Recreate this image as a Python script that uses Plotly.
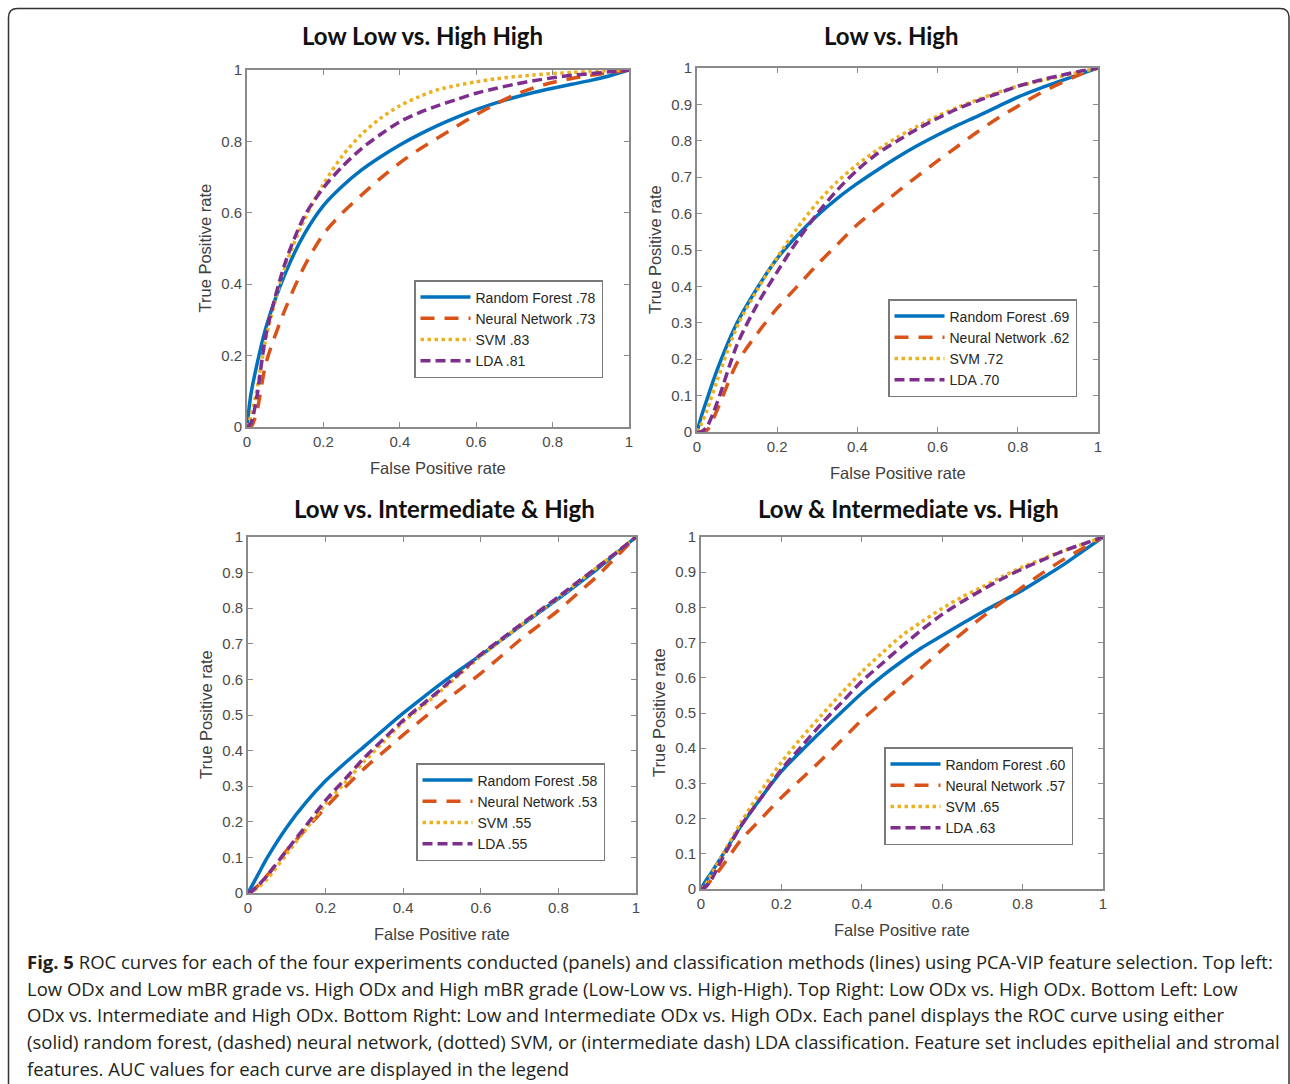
import plotly.graph_objects as go

W, H = 1290, 1084

# ---------------- data ----------------
fpr = [0, 0.01, 0.025, 0.05, 0.1, 0.15, 0.2, 0.25, 0.3, 0.35, 0.4, 0.45, 0.5,
       0.55, 0.6, 0.65, 0.7, 0.75, 0.8, 0.85, 0.9, 0.95, 1.0]

methods = ["Random Forest", "Neural Network", "SVM", "LDA"]

panel_titles = ["Low Low vs. High High", "Low vs. High",
                "Low vs. Intermediate & High", "Low & Intermediate vs. High"]

auc_p1 = [".78", ".73", ".83", ".81"]
auc_p2 = [".69", ".62", ".72", ".70"]
auc_p3 = [".58", ".53", ".55", ".55"]
auc_p4 = [".60", ".57", ".65", ".63"]

# Panel 1: Low Low vs. High High
p1_rf = [0, 0.09, 0.17, 0.28, 0.43, 0.54, 0.62, 0.675, 0.72, 0.757, 0.79, 0.819, 0.845,
         0.868, 0.889, 0.907, 0.923, 0.937, 0.949, 0.96, 0.971, 0.984, 1.0]
p1_nn = [0, 0, 0.04, 0.18, 0.33, 0.45, 0.54, 0.60, 0.65, 0.697, 0.74, 0.777, 0.81,
         0.843, 0.875, 0.904, 0.93, 0.95, 0.965, 0.976, 0.985, 0.993, 1.0]
p1_svm = [0, 0.03, 0.10, 0.25, 0.45, 0.58, 0.68, 0.76, 0.82, 0.865, 0.90, 0.925, 0.945,
          0.957, 0.967, 0.975, 0.981, 0.986, 0.99, 0.993, 0.996, 0.998, 1.0]
p1_lda = [0, 0.01, 0.08, 0.26, 0.46, 0.59, 0.67, 0.73, 0.78, 0.82, 0.855, 0.88, 0.90,
          0.918, 0.935, 0.948, 0.96, 0.97, 0.978, 0.985, 0.99, 0.995, 1.0]

# Panel 2: Low vs. High
p2_rf = [0, 0.04, 0.09, 0.17, 0.30, 0.395, 0.477, 0.54, 0.595, 0.642, 0.683, 0.72, 0.755,
         0.787, 0.816, 0.843, 0.868, 0.894, 0.92, 0.942, 0.962, 0.981, 1.0]
p2_nn = [0, 0, 0.005, 0.06, 0.19, 0.27, 0.34, 0.40, 0.46, 0.515, 0.57, 0.615, 0.66,
         0.703, 0.745, 0.785, 0.825, 0.862, 0.895, 0.927, 0.955, 0.98, 1.0]
p2_svm = [0, 0.02, 0.06, 0.14, 0.29, 0.39, 0.48, 0.56, 0.63, 0.688, 0.735, 0.775, 0.81,
          0.84, 0.868, 0.892, 0.913, 0.933, 0.95, 0.963, 0.975, 0.988, 1.0]
p2_lda = [0, 0, 0.015, 0.08, 0.24, 0.35, 0.44, 0.525, 0.60, 0.665, 0.72, 0.765, 0.80,
          0.833, 0.862, 0.888, 0.91, 0.93, 0.95, 0.965, 0.978, 0.99, 1.0]

# Panel 3: Low vs. Intermediate & High
p3_rf = [0, 0.02, 0.05, 0.10, 0.185, 0.255, 0.315, 0.365, 0.412, 0.459, 0.505, 0.548, 0.59,
         0.63, 0.668, 0.708, 0.748, 0.788, 0.827, 0.868, 0.91, 0.955, 1.0]
p3_nn = [0, 0.005, 0.02, 0.05, 0.12, 0.18, 0.24, 0.297, 0.35, 0.397, 0.444, 0.489, 0.533,
         0.575, 0.617, 0.663, 0.71, 0.752, 0.794, 0.842, 0.89, 0.945, 1.0]
p3_svm = [0, 0.003, 0.015, 0.04, 0.11, 0.18, 0.25, 0.31, 0.37, 0.425, 0.48, 0.525, 0.57,
          0.618, 0.665, 0.708, 0.75, 0.79, 0.83, 0.872, 0.915, 0.957, 1.0]
p3_lda = [0, 0.005, 0.02, 0.05, 0.12, 0.19, 0.26, 0.32, 0.38, 0.433, 0.485, 0.53, 0.575,
          0.622, 0.67, 0.711, 0.752, 0.792, 0.832, 0.874, 0.915, 0.957, 1.0]

# Panel 4: Low & Intermediate vs. High
p4_rf = [0, 0.02, 0.045, 0.09, 0.18, 0.26, 0.334, 0.393, 0.449, 0.503, 0.556, 0.604, 0.647,
         0.686, 0.72, 0.754, 0.787, 0.818, 0.849, 0.884, 0.92, 0.96, 1.0]
p4_nn = [0, 0.005, 0.025, 0.06, 0.14, 0.20, 0.26, 0.313, 0.367, 0.423, 0.48, 0.53, 0.58,
         0.63, 0.68, 0.727, 0.773, 0.816, 0.858, 0.898, 0.935, 0.968, 1.0]
p4_svm = [0, 0.01, 0.04, 0.09, 0.19, 0.28, 0.36, 0.43, 0.494, 0.557, 0.617, 0.67, 0.72,
          0.76, 0.797, 0.83, 0.858, 0.888, 0.915, 0.938, 0.96, 0.98, 1.0]
p4_lda = [0, 0.005, 0.025, 0.08, 0.18, 0.26, 0.34, 0.405, 0.47, 0.53, 0.59, 0.64, 0.69,
          0.737, 0.78, 0.817, 0.85, 0.882, 0.91, 0.935, 0.96, 0.98, 1.0]

x_ticks = [0, 0.2, 0.4, 0.6, 0.8, 1]
y_ticks_p1 = [0, 0.2, 0.4, 0.6, 0.8, 1]
y_ticks_other = [0, 0.1, 0.2, 0.3, 0.4, 0.5, 0.6, 0.7, 0.8, 0.9, 1]

caption_lines = [
    "<b>Fig. 5</b> ROC curves for each of the four experiments conducted (panels) and classification methods (lines) using PCA-VIP feature selection. Top left:",
    "Low ODx and Low mBR grade vs. High ODx and High mBR grade (Low-Low vs. High-High). Top Right: Low ODx vs. High ODx. Bottom Left: Low",
    "ODx vs. Intermediate and High ODx. Bottom Right: Low and Intermediate ODx vs. High ODx. Each panel displays the ROC curve using either",
    "(solid) random forest, (dashed) neural network, (dotted) SVM, or (intermediate dash) LDA classification. Feature set includes epithelial and stromal",
    "features. AUC values for each curve are displayed in the legend",
]

# ---------------- styling ----------------
colors = ["#0072BD", "#D95319", "#EDB120", "#7E2F8E"]
dashes = ["solid", "14px,10px", "3.5px,3.5px", "10px,5px"]
lw = 3.5


def px_x(p):
    return p / W


def px_y(p):
    return 1 - p / H


# panel pixel boxes: (left, right, top, bottom)
boxes = [(247, 629, 70, 427), (697, 1098, 68, 432),
         (248, 636, 537, 893), (701, 1103, 537, 889)]
legend_anchor = [(603, 378), (1077, 397), (605, 861), (1073, 845)]
title_pos = [(422, 36), (891, 36), (444, 508), (908, 508)]

panels = [
    (p1_rf, p1_nn, p1_svm, p1_lda, auc_p1, y_ticks_p1),
    (p2_rf, p2_nn, p2_svm, p2_lda, auc_p2, y_ticks_other),
    (p3_rf, p3_nn, p3_svm, p3_lda, auc_p3, y_ticks_other),
    (p4_rf, p4_nn, p4_svm, p4_lda, auc_p4, y_ticks_other),
]

fig = go.Figure()
layout = dict(
    width=W, height=H,
    margin=dict(l=0, r=0, t=0, b=0, pad=0, autoexpand=False),
    paper_bgcolor="white", plot_bgcolor="white", showlegend=True,
    font=dict(family="Liberation Sans, Arial", color="#404040"),
)
annotations = []

axis_common = dict(
    range=[0, 1], showgrid=False, zeroline=False, showline=True,
    linecolor="#8a8a8a", linewidth=1.6, mirror="ticks", ticks="inside",
    ticklen=5, tickcolor="#8a8a8a", tickwidth=1.2,
    tickfont=dict(size=15, color="#4a4a4a", family="Liberation Sans, Arial"),
    fixedrange=True, automargin=False,
)

for i, (rf, nn, svm, lda, aucs, yt) in enumerate(panels):
    k = i + 1
    xa = "x" if k == 1 else f"x{k}"
    ya = "y" if k == 1 else f"y{k}"
    leg = "legend" if k == 1 else f"legend{k}"
    series = [rf, nn, svm, lda]
    for j in range(4):
        fig.add_trace(go.Scatter(
            x=fpr, y=series[j], mode="lines", xaxis=xa, yaxis=ya,
            name=f"{methods[j]} {aucs[j]}", legend=leg,
            line=dict(color=colors[j], width=lw, dash=dashes[j],
                      shape="spline", smoothing=0.8),
            hoverinfo="skip",
        ))
    l, r, t, b = boxes[i]
    layout[f"xaxis{'' if k == 1 else k}"] = dict(
        axis_common, domain=[px_x(l), px_x(r)], anchor=ya, tickvals=x_ticks,
        ticktext=[f"{v:g}" for v in x_ticks])
    layout[f"yaxis{'' if k == 1 else k}"] = dict(
        axis_common, domain=[px_y(b), px_y(t)], anchor=xa, tickvals=yt,
        ticktext=[f"{v:g}" for v in yt])
    lx, ly = legend_anchor[i]
    layout[leg] = dict(
        x=px_x(lx), y=px_y(ly), xanchor="right", yanchor="bottom",
        bgcolor="white", bordercolor="#7a7a7a", borderwidth=1.5,
        font=dict(size=14, color="#262626", family="Liberation Sans, Arial"),
        itemwidth=50, tracegroupgap=0,
    )
    # panel title
    tx, ty = title_pos[i]
    annotations.append(dict(
        text=f"<b>{panel_titles[i]}</b>", x=px_x(tx), y=px_y(ty),
        xref="paper", yref="paper", showarrow=False, xanchor="center",
        yanchor="middle", font=dict(family="Lato", size=24, color="#111111")))
    # axis titles
    annotations.append(dict(
        text="False Positive rate", x=px_x((l + r) / 2), y=px_y(b + 41),
        xref="paper", yref="paper", showarrow=False, xanchor="center",
        yanchor="middle", font=dict(size=16.5, color="#404040")))
    annotations.append(dict(
        text="True Positive rate", x=px_x(l - 42), y=px_y((t + b) / 2),
        xref="paper", yref="paper", showarrow=False, xanchor="center",
        yanchor="middle", textangle=-90, font=dict(size=16.5, color="#404040")))

cap_y = [961, 988, 1014, 1041, 1068]
for line, yy in zip(caption_lines, cap_y):
    annotations.append(dict(
        text=line, x=px_x(25), y=px_y(yy), xref="paper", yref="paper",
        showarrow=False, xanchor="left", yanchor="middle",
        font=dict(family="Open Sans", size=18.5, color="#231f20")))

layout["annotations"] = annotations

# rounded figure frame
x0, y0, x1, r_ = 8.5, 8.5, 1289, 9
frame = (f"M {px_x(x0)},{px_y(H + 5)} L {px_x(x0)},{px_y(y0 + r_)} "
         f"Q {px_x(x0)},{px_y(y0)} {px_x(x0 + r_)},{px_y(y0)} "
         f"L {px_x(x1 - r_)},{px_y(y0)} Q {px_x(x1)},{px_y(y0)} {px_x(x1)},{px_y(y0 + r_)} "
         f"L {px_x(x1)},{px_y(H + 5)}")
layout["shapes"] = [dict(type="path", path=frame, xref="paper", yref="paper",
                         line=dict(color="#333333", width=1.5))]

fig.update_layout(**layout)
fig.write_html("out.html", config={"displayModeBar": False},
               post_script="document.body.style.margin='0';document.body.style.overflow='hidden';")
